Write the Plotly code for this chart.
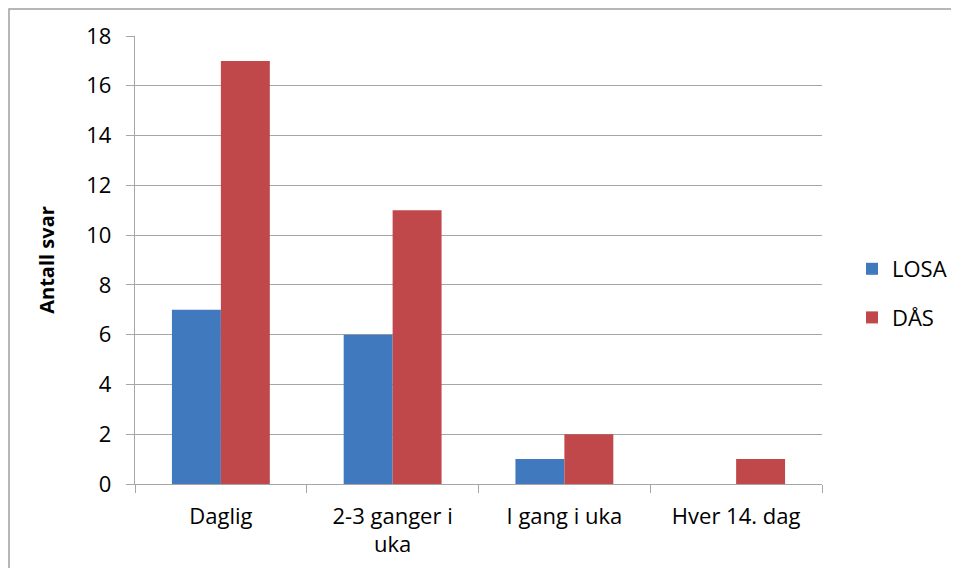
import plotly.graph_objects as go

categories = ["Daglig", "2-3 ganger i<br>uka", "I gang i uka", "Hver 14. dag"]
losa = [7, 6, 1, 0]
daas = [17, 11, 2, 1]
y_ticks = [0, 2, 4, 6, 8, 10, 12, 14, 16, 18]

FONT = "Open Sans, Liberation Sans, sans-serif"
GRID = "#A6A6A6"

fig = go.Figure()
fig.add_trace(go.Bar(name="LOSA", x=categories, y=losa, marker_color="#4179BE",
                     marker_line_width=0, legendgroup="a"))
fig.add_trace(go.Bar(name="DÅS", x=categories, y=daas, marker_color="#C0474A",
                     marker_line_width=0, legendgroup="b"))

# page body has an 8px margin on every side; size the figure so the page is 959x576
OFF = 8
W, H = 959 - 2 * OFF, 576 - 2 * OFF
L, T = 135 - OFF, 36 - OFF
R = (959 - OFF) - 822
B = (576 - OFF) - 484
pw, ph = W - L - R, H - T - B

fig.update_layout(
    width=W, height=H,
    margin=dict(l=L, r=R, t=T, b=B, autoexpand=False),
    paper_bgcolor="white", plot_bgcolor="white",
    barmode="group", bargap=0.43, bargroupgap=0,
    font=dict(family=FONT, size=22, color="black"),
    legend=dict(xref="container", yref="container",
                x=(852 - OFF) / W, y=1 - (248 - OFF) / H, xanchor="left", yanchor="top",
                font=dict(size=22), itemwidth=30, tracegroupgap=17,
                bgcolor="rgba(0,0,0,0)"),
    xaxis=dict(
        type="category", showgrid=False, showline=True, linecolor=GRID, linewidth=1.3,
        ticks="outside", tickson="boundaries", ticklen=8, tickcolor=GRID, tickwidth=1.3,
        tickfont=dict(size=22), range=[-0.5, 3.5], ticklabelstandoff=12,
        automargin=False,
    ),
    yaxis=dict(
        range=[0, 18], tickvals=y_ticks, showgrid=True, gridcolor=GRID, gridwidth=1.3,
        showline=True, linecolor=GRID, linewidth=1.3, ticks="outside", ticklen=8,
        tickcolor=GRID, tickwidth=1.3, tickfont=dict(size=22), zeroline=False,
        ticklabelstandoff=10, automargin=False,
        title=dict(text="<b>Antall svar</b>", font=dict(size=20), standoff=26),
    ),
    shapes=[dict(type="rect", xref="paper", yref="paper",
                 x0=(9 - 135) / pw, x1=(975 - 135) / pw,
                 y0=(484 - 595) / ph, y1=(484 - 9) / ph,
                 line=dict(color="#A0A0A0", width=1.5), fillcolor="rgba(0,0,0,0)",
                 layer="below")],
)

fig.write_html("out.html")
